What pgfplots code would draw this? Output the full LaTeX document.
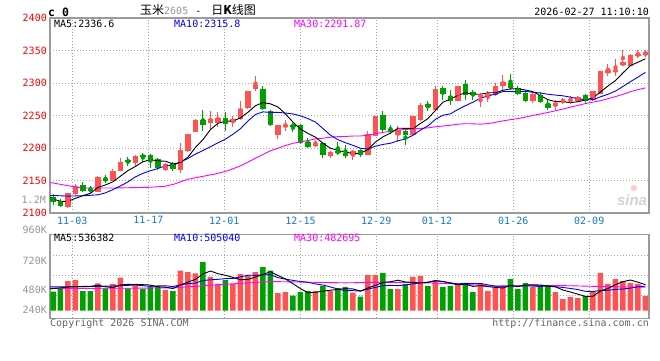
\documentclass[border=0pt]{standalone}
\usepackage{pgfplots}
\pgfplotsset{compat=1.18}
\usepackage{pgfplotstable}
\usepackage{fontspec}
\setmainfont{DejaVu Sans Mono}
\newfontfamily\cjk{Noto Sans CJK SC}
\newfontfamily\logofont{Liberation Sans}

\definecolor{kred}{RGB}{255,82,82}
\definecolor{kgreen}{RGB}{0,160,0}
\definecolor{gridc}{RGB}{165,165,165}
\definecolor{framec}{RGB}{155,155,155}
\definecolor{datec}{RGB}{20,120,200}
\definecolor{labgray}{RGB}{150,150,150}
\definecolor{copygray}{RGB}{100,100,100}
\definecolor{mablue}{RGB}{0,0,255}
\definecolor{mamag}{RGB}{255,0,255}

% candles: i open high low close
\pgfplotstableread{
i o h l c
2 2108.7 2131 2108 2130.8
3 2129.2 2144 2127 2141
6 2132.8 2157.4 2131.8 2156
8 2149.7 2168 2149 2165
9 2165.4 2184 2164 2178
11 2177 2190 2173 2188
15 2166 2177 2164 2175
17 2166.7 2208 2161.6 2197
18 2196 2222 2194 2221.5
19 2225 2244.6 2224 2243.6
21 2238.5 2256.4 2229 2244.6
22 2238.5 2256 2233 2245.6
24 2239.5 2250 2233 2244.6
25 2244.6 2272.8 2243.6 2260
26 2261 2288 2260.7 2288
27 2291.3 2311 2287 2296.4
30 2220.5 2236 2214 2236
31 2234 2243.6 2225.6 2235
35 2204 2212.8 2201.5 2206.7
37 2188 2196 2184.6 2193.3
40 2190 2197.4 2182 2196
42 2190 2225.6 2189 2222
43 2219 2250 2218 2250
46 2219.5 2234.4 2210 2228
48 2220.5 2249 2219.5 2248.7
49 2243.6 2269 2241 2266.7
51 2259 2295 2258 2291.3
54 2273 2296 2272 2296
57 2278.6 2284.7 2262.8 2282.1
58 2279.6 2287.2 2270.4 2283.7
59 2282.1 2300 2280.6 2296
60 2294.9 2311.7 2287.2 2301
64 2273 2284.7 2269.4 2283.2
67 2264.3 2274.5 2259.2 2269.4
68 2271.4 2277 2267.9 2273
69 2272 2279.6 2268.4 2274.5
70 2272.4 2280.6 2271 2278.6
72 2274.5 2288.3 2272 2287.2
73 2283.7 2317.9 2283.7 2317.9
74 2315.3 2329.6 2311.2 2320.4
75 2317.9 2336.7 2311.2 2320.4
76 2327 2351 2325.5 2332.1
77 2326.5 2345 2325.5 2343.4
78 2342.9 2351 2338.3 2343.9
79 2343.4 2351 2339.8 2347.4
}\redk

\pgfplotstableread{
i o h l c
0 2125 2129 2113 2116.4
1 2118.5 2121.5 2108.7 2111
4 2143.6 2147 2132 2134.4
5 2136 2142 2131 2135
7 2153.3 2158.5 2146 2149.7
10 2181 2185.6 2172.8 2178
12 2189 2192 2179 2185.6
13 2189 2191 2170 2180.5
14 2183 2184 2166.7 2168.7
16 2175.4 2179 2165 2167.7
20 2243 2258.5 2226.7 2235.4
23 2245.6 2255 2226.7 2237
28 2291.3 2295 2258 2260.7
29 2256.4 2259 2233.3 2235
32 2236 2238.5 2224 2232
33 2236 2236.5 2206.7 2207.7
34 2210 2215.4 2200 2201.5
36 2207.7 2210 2184.6 2188.7
38 2196 2210 2188.7 2192
39 2192.3 2205 2184.6 2188
41 2197.4 2198.5 2186 2190
44 2251.3 2257.4 2223 2228
45 2229.7 2236 2222 2224.6
47 2225.6 2228 2204 2220.5
50 2268 2271.8 2256.4 2262.6
52 2292.3 2296 2274.5 2283.7
53 2280.6 2288.8 2266.8 2272
55 2299 2305 2274.5 2282
56 2286.2 2289.8 2274.5 2281
61 2300 2314.3 2289.8 2292.3
62 2292.3 2294.9 2282.1 2283.7
63 2284.7 2287.2 2270.4 2273
65 2282.1 2286.2 2269.4 2270.4
66 2268.4 2275.5 2258.2 2261.2
71 2282.1 2283.2 2269.4 2273
}\greenk

% price moving averages
\pgfplotstableread{
i m
-0.4 2124
0 2121.5
1 2118
2 2118
3 2122.6
4 2126.7
5 2130.4
6 2139.4
7 2143.2
8 2148.0
9 2156.7
10 2165.3
11 2171.7
12 2178.9
13 2182.0
14 2180.2
15 2179.6
16 2175.5
17 2177.8
18 2186.0
19 2201.0
20 2213.0
21 2228.4
22 2238.1
23 2241.2
24 2241.4
25 2246.4
26 2255.0
27 2265.1
28 2269.9
29 2267.9
30 2263.1
31 2252.5
32 2239.7
33 2229.1
34 2222.4
35 2216.6
36 2207.3
37 2199.6
38 2196.4
39 2193.7
40 2191.6
41 2191.9
42 2197.6
43 2209.2
44 2217.2
45 2222.9
46 2230.5
47 2230.2
48 2230.0
49 2237.7
50 2245.3
51 2258.0
52 2270.6
53 2275.3
54 2281.1
55 2285.0
56 2282.9
57 2282.6
58 2285.0
59 2285.0
60 2288.8
61 2291.0
62 2291.3
63 2289.2
64 2286.6
65 2280.5
66 2274.3
67 2271.4
68 2271.4
69 2269.7
70 2271.3
71 2273.7
72 2277.3
73 2286.2
74 2295.4
75 2303.8
76 2315.6
77 2326.8
78 2332.0
79 2337.4
}\mafive

\pgfplotstableread{
i m
-0.4 2127
0 2127
2 2126
4 2126.5
6 2128
7 2131
8 2136
9 2141.7
10 2147.9
11 2155.6
12 2161.1
13 2165.0
14 2168.5
15 2172.5
16 2173.6
17 2178.4
18 2184.0
19 2190.6
20 2196.3
21 2202.0
22 2208.0
23 2213.6
24 2221.2
25 2229.7
26 2241.7
27 2251.6
28 2255.6
29 2254.7
30 2254.8
31 2253.8
32 2252.4
33 2249.5
34 2245.2
35 2239.9
36 2229.9
37 2219.7
38 2212.8
39 2208.1
40 2204.1
41 2199.6
42 2198.6
43 2202.8
44 2205.5
45 2207.3
46 2211.2
47 2213.9
48 2219.6
49 2227.5
50 2234.1
51 2244.2
52 2250.4
53 2252.6
54 2259.4
55 2265.2
56 2270.5
57 2276.6
58 2280.1
59 2283.0
60 2286.9
61 2287.0
62 2287.0
63 2287.1
64 2285.8
65 2284.6
66 2282.7
67 2281.4
68 2280.3
69 2278.2
70 2275.9
71 2274.0
72 2274.4
73 2278.8
74 2282.6
75 2287.6
76 2294.7
77 2302.1
78 2309.1
79 2316.4
}\maten

\pgfplotstableread{
i m
-0.4 2147
2 2142
3.8 2138.5
8.2 2138.5
12.7 2139.5
14.9 2141
16.2 2144.6
18 2152
19.8 2156
21.6 2160
23.3 2165
25.1 2173
27.8 2189
29 2195.7
30 2199.7
31 2203.8
32 2207.2
33 2209.4
34 2211.6
35 2214.0
36 2215.1
37 2216.6
38 2217.5
39 2217.8
40 2218.4
41 2218.5
42 2219.7
43 2222.0
44 2224.0
45 2225.7
46 2227.7
47 2228.5
48 2229.4
49 2230.1
50 2231.0
51 2232.6
52 2233.8
53 2235.0
54 2236.7
55 2237.4
56 2237.2
57 2236.7
58 2237.5
59 2239.5
60 2241.7
61 2243.6
62 2245.3
63 2247.5
64 2250.2
65 2252.3
66 2254.7
67 2257.3
68 2260.0
69 2262.9
70 2265.6
71 2268.4
72 2270.6
73 2272.8
74 2275.9
75 2279.1
76 2282.6
77 2286.7
78 2289.8
79 2292.5
}\mathirty

% volume (thousand lots)
\pgfplotstableread{
i v
2 610
3 631
6 561
8 549
9 678
11 549
15 425
17 822
18 795
19 767
21 693
22 549
24 549
25 754
26 734
27 795
30 364
31 384
35 405
37 405
40 370
42 734
43 734
46 446
48 693
49 713
51 610
54 549
57 569
58 405
59 466
60 508
64 487
67 384
68 240
69 282
70 261
72 405
73 775
74 549
75 651
76 610
77 569
78 549
79 302
}\redv

\pgfplotstableread{
i v
0 390
1 458
4 405
5 405
7 458
10 458
12 446
13 499
14 499
16 405
20 1001
23 631
28 898
29 822
32 308
33 384
34 405
36 508
38 466
39 487
41 288
44 775
45 446
47 549
50 508
52 487
53 508
55 569
56 384
61 651
62 446
63 569
65 487
66 528
71 302
}\greenv

\pgfplotstableread{
i m
-0.4 452
0 455
1 470
2 485
3 495
4 499
5 502
6 522
7 492
8 476
9 530
10 541
11 538
12 536
13 526
14 490
15 484
16 455
17 530
18 589
19 643
20 758
21 815
22 761
23 728
24 684
25 635
26 643
27 693
28 746
29 801
30 723
31 653
32 555
33 453
34 369
35 377
36 402
37 421
38 438
39 454
40 447
41 403
42 469
43 522
44 580
45 595
46 627
47 590
48 582
49 569
50 582
51 614
52 602
53 565
54 532
55 545
56 499
57 516
58 495
59 479
60 466
61 520
62 495
63 528
64 532
65 528
66 503
67 491
68 425
69 384
70 339
71 294
72 298
73 405
74 458
75 536
76 598
77 631
78 586
79 536
}\vmafive

\pgfplotstableread{
i m
-0.4 490
0 490
2 492
4 495
6 500
8 508
9 515
10 521
11 530
12 514
13 501
14 510
15 512
16 497
17 533
18 558
19 567
20 621
21 635
22 645
23 659
24 664
25 696
26 729
27 727
28 737
29 742
30 679
31 648
32 624
33 599
34 585
35 550
36 527
37 488
38 445
39 412
40 412
41 403
42 445
43 480
44 517
45 521
46 515
47 529
48 552
49 575
50 588
51 621
52 596
53 573
54 551
55 563
56 557
57 559
58 530
59 506
60 506
61 510
62 506
63 512
64 506
65 497
66 512
67 493
68 477
69 458
70 434
71 399
72 395
73 415
74 421
75 438
76 446
77 464
78 495
79 505
}\vmaten

\pgfplotstableread{
i m
-0.4 458
10 462
16 470
19 500
22 535
26 570
29 600
34 586
39 573
44 585
49 576
54 551
59 500
64 522
69 513
74 493
79 483
}\vmathirty

\pgfplotsset{
  kbase/.style={
    scale only axis, width=599pt,
    xmin=-0.4, xmax=79.47,
    axis line style={framec, line width=1.4pt},
    grid=major,
    major grid style={gridc, line width=0.8pt, dash pattern=on 1pt off 2pt},
    major tick length=0pt,
    xtick={2.57,12.71,22.84,33.0,43.1,51.2,61.37,71.5},
    /pgf/number format/assume math mode=true,
    /pgf/number format/set thousands separator={},
    tick label style={font=\fontsize{10}{12}\selectfont},
  },
  wick/.style={only marks, mark=none, forget plot,
    error bars/y dir=both, error bars/y explicit, error bars/error mark=none,
    error bars/error bar style={#1, solid, line width=1pt, line cap=butt}},
  body/.style={only marks, mark=none, forget plot,
    error bars/y dir=both, error bars/y explicit, error bars/error mark=none,
    error bars/error bar style={#1, solid, line width=5.5pt, line cap=butt}},
}

\begin{document}
\begin{tikzpicture}
\useasboundingbox (0,0) rectangle (660pt,360pt);

% ---------- price panel ----------
\begin{axis}[kbase, at={(50pt,147pt)}, anchor=south west, height=195pt,
  ymin=2100, ymax=2400, ytick={2100,2150,2200,2250,2300,2350,2400},
  yticklabel style={text=red, anchor=east, inner sep=0pt, xshift=-3pt},
  xticklabels={11-03,11-17,12-01,12-15,12-29,01-12,01-26,02-09},
  xticklabel style={text=datec, anchor=north, inner sep=0pt, yshift=-3.5pt},
]
\addplot[kred, wick=kred] table[x=i, y expr={(\thisrow{h}+\thisrow{l})/2}, y error expr={(\thisrow{h}-\thisrow{l})/2}] {\redk};
\addplot[kred, body=kred] table[x=i, y expr={(\thisrow{o}+\thisrow{c})/2}, y error expr={max(abs(\thisrow{c}-\thisrow{o})/2,0.8)}] {\redk};
\addplot[kgreen, wick=kgreen] table[x=i, y expr={(\thisrow{h}+\thisrow{l})/2}, y error expr={(\thisrow{h}-\thisrow{l})/2}] {\greenk};
\addplot[kgreen, body=kgreen] table[x=i, y expr={(\thisrow{o}+\thisrow{c})/2}, y error expr={max(abs(\thisrow{c}-\thisrow{o})/2,0.8)}] {\greenk};
\addplot[mamag, line width=0.9pt, mark=none] table[x=i, y=m] {\mathirty};
\addplot[mablue, line width=0.9pt, mark=none] table[x=i, y=m] {\maten};
\addplot[black, line width=0.9pt, mark=none] table[x=i, y=m] {\mafive};
\end{axis}

% ---------- volume panel ----------
\begin{axis}[kbase, at={(50pt,41.7pt)}, anchor=south west, height=83.8pt,
  ymin=-156, ymax=1566, ytick={317,728,1145}, yticklabels={}, xticklabels={},
]
\addplot[ybar, bar width=5.5pt, bar shift=0pt, fill=kred, draw=none] table[x=i, y=v] {\redv};
\addplot[ybar, bar width=5.5pt, bar shift=0pt, fill=kgreen, draw=none] table[x=i, y=v] {\greenv};
\addplot[mamag, line width=0.9pt, mark=none] table[x=i, y=m] {\vmathirty};
\addplot[mablue, line width=0.9pt, mark=none] table[x=i, y=m] {\vmaten};
\addplot[black, line width=0.9pt, mark=none] table[x=i, y=m] {\vmafive};
\end{axis}

% ---------- texts ----------
\begin{scope}[every node/.style={inner sep=0pt, font=\fontsize{10}{12}\selectfont}]
\node[anchor=west, font=\fontsize{11.5}{12}\selectfont\bfseries] at (48pt,348pt) {c 0};
\node[anchor=west] at (140pt,350pt) {{\cjk\fontsize{12}{14}\selectfont 玉米}\textcolor{labgray}{2605}\hspace{7pt}-\hspace{10pt}{\cjk\fontsize{12}{14}\selectfont 日\textbf{K}线图}};
\node[anchor=east] at (649pt,348pt) {2026-02-27 11:10:10};
\node[anchor=west] at (54pt,336pt) {MA5:2336.6};
\node[anchor=west, text=mablue] at (174pt,336pt) {MA10:2315.8};
\node[anchor=west, text=mamag] at (294pt,336pt) {MA30:2291.87};
\node[anchor=east, text=labgray] at (46pt,160pt) {1.2M};
\node[anchor=west] at (54pt,121.7pt) {MA5:536382};
\node[anchor=west, text=mablue] at (174pt,121.7pt) {MA10:505040};
\node[anchor=west, text=mamag] at (294pt,121.7pt) {MA30:482695};
\node[anchor=east, text=labgray] at (47pt,130pt) {960K};
\node[anchor=east, text=labgray] at (47pt,99.3pt) {720K};
\node[anchor=east, text=labgray] at (47pt,69.7pt) {480K};
\node[anchor=east, text=labgray] at (47pt,49.7pt) {240K};
\node[anchor=west, text=copygray] at (50pt,36pt) {Copyright 2026 SINA.COM};
\node[anchor=east, text=copygray] at (649pt,36pt) {http://finance.sina.com.cn};
\node[text=gray!35, font=\logofont\bfseries\itshape\fontsize{15}{15}\selectfont] at (632pt,160pt) {sina};
\fill[red!20] (634pt,172pt) circle (3.2pt);
\end{scope}
\end{tikzpicture}
\end{document}
